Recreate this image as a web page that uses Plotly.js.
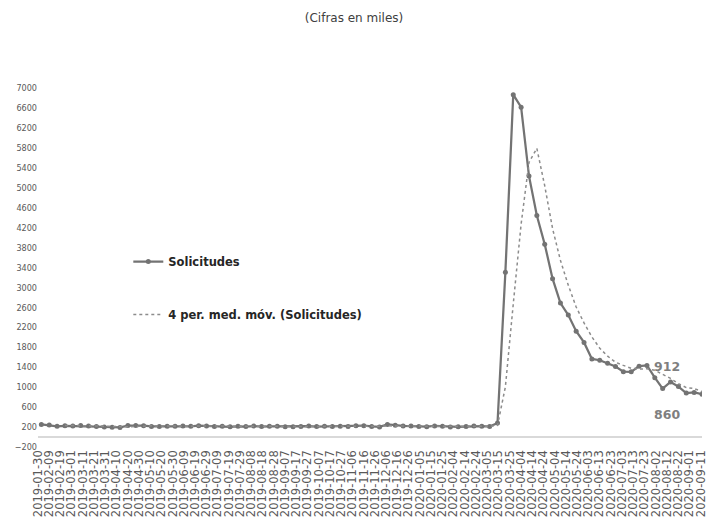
<!DOCTYPE html>
<html>
<head>
<meta charset="utf-8">
<script src="https://cdn.plot.ly/plotly-3.0.1.min.js"></script>
<style>html,body{margin:0;padding:0;background:#fff;}#chart{width:708px;height:524px;}</style>
</head>
<body>
<div id="chart"></div>
<script>
// Weekly dates (week ending)
const dates2019 = ["2019-02-02","2019-02-09","2019-02-16","2019-02-23","2019-03-02","2019-03-09","2019-03-16","2019-03-23","2019-03-30","2019-04-06","2019-04-13","2019-04-20","2019-04-27","2019-05-04","2019-05-11","2019-05-18","2019-05-25","2019-06-01","2019-06-08","2019-06-15","2019-06-22","2019-06-29","2019-07-06","2019-07-13","2019-07-20","2019-07-27","2019-08-03","2019-08-10","2019-08-17","2019-08-24","2019-08-31","2019-09-07","2019-09-14","2019-09-21","2019-09-28","2019-10-05","2019-10-12","2019-10-19","2019-10-26","2019-11-02","2019-11-09","2019-11-16","2019-11-23","2019-11-30","2019-12-07","2019-12-14","2019-12-21","2019-12-28"];
const dates2020 = ["2020-01-04","2020-01-11","2020-01-18","2020-01-25","2020-02-01","2020-02-08","2020-02-15","2020-02-22","2020-02-29","2020-03-07","2020-03-14","2020-03-21","2020-03-28","2020-04-04","2020-04-11","2020-04-18","2020-04-25","2020-05-02","2020-05-09","2020-05-16","2020-05-23","2020-05-30","2020-06-06","2020-06-13","2020-06-20","2020-06-27","2020-07-04","2020-07-11","2020-07-18","2020-07-25","2020-08-01","2020-08-08","2020-08-15","2020-08-22","2020-08-29","2020-09-05","2020-09-12"];

// Solicitudes (miles)
const solicitudes2019 = [253,239,216,226,223,230,221,211,202,196,192,230,230,228,212,211,215,218,222,216,227,221,209,216,206,215,209,220,209,215,217,204,208,213,219,210,214,212,218,211,225,227,213,203,252,234,222,220];
const solicitudes2020 = [212,207,222,216,203,206,211,220,217,211,282,3307,6867,6615,5237,4442,3867,3176,2687,2446,2123,1897,1566,1540,1482,1413,1310,1307,1422,1435,1191,971,1104,1011,881,893,860];

// 4 per. med. móv. (Solicitudes)
const mediaMovil2019 = [null,null,null,233.5,226,223.75,225,221.25,216,207.5,200.25,205,212,220,225,220.25,216.5,214,216.5,217.75,220.75,221.5,218.25,218.25,213,211.5,211.5,212.5,213.25,213.25,215.25,211.25,211,210.5,211,212.5,214,213.75,213.5,213.75,216.5,220.25,219,217,223.75,225.5,227.75,232];
const mediaMovil2020 = [222,215.25,215.25,214.25,212,211.75,209,210,213.5,214.75,232.5,1004.25,2666.75,4267.75,5506.5,5790.25,5040.25,4180.5,3543,3044,2608,2288.25,2008,1781.5,1621.25,1500.25,1436.25,1378,1363,1368.5,1338.75,1254.75,1175.25,1069.25,991.75,972.25,911.25];

const seriesNames = ["Solicitudes", "4 per. med. móv. (Solicitudes)"];
const endLabels = [912, 860];

const x = dates2019.concat(dates2020);
const ySol = solicitudes2019.concat(solicitudes2020);
const yMA = mediaMovil2019.concat(mediaMovil2020);
const lastDate = x[x.length - 1];

const traces = [
  {
    type: 'scatter', mode: 'lines+markers', name: '<b>' + seriesNames[0] + '</b>',
    x: x, y: ySol, legendgroup: 'a',
    line: {color: '#737373', width: 2.25},
    marker: {color: '#737373', size: 5, symbol: 'circle'},
    hoverinfo: 'x+y'
  },
  {
    type: 'scatter', mode: 'lines', name: '<b>' + seriesNames[1] + '</b>',
    x: x, y: yMA, legendgroup: 'b', connectgaps: false,
    line: {color: '#8c8c8c', width: 1.5, dash: 'dot'},
    hoverinfo: 'x+y'
  }
];

const layout = {
  width: 708, height: 524,
  paper_bgcolor: '#ffffff', plot_bgcolor: '#ffffff',
  margin: {l: 38, r: 6, t: 88, b: 77},
  title: {
    text: '(Cifras en miles)',
    x: 0.5, xanchor: 'center', xref: 'container',
    y: 0.966, yanchor: 'middle', yref: 'container',
    font: {family: 'DejaVu Sans, sans-serif', size: 12, color: '#404040'}
  },
  showlegend: true,
  legend: {
    x: 0.136, xanchor: 'left', y: 0.557, yanchor: 'top',
    bgcolor: 'rgba(0,0,0,0)', borderwidth: 0,
    traceorder: 'grouped', tracegroupgap: 34,
    font: {family: 'DejaVu Sans, sans-serif', size: 11.5, color: '#262626'}
  },
  xaxis: {
    type: 'date',
    range: ['2019-01-30', '2020-09-12'],
    tick0: '2019-01-30', dtick: 864000000,
    tickformat: '%Y-%m-%d', tickangle: -90,
    tickfont: {family: 'DejaVu Sans, sans-serif', size: 11.5, color: '#595959'},
    showgrid: false, zeroline: false, showline: false, ticks: '',
    automargin: false, fixedrange: true
  },
  yaxis: {
    range: [-200, 7000], tick0: -200, dtick: 400,
    tickfont: {family: 'DejaVu Sans Condensed, Liberation Sans Narrow, DejaVu Sans, sans-serif', size: 9, color: '#595959'},
    showgrid: false, zeroline: true, zerolinecolor: '#d9d9d9', zerolinewidth: 1.25,
    showline: false, ticks: '', automargin: false, fixedrange: true
  },
  annotations: [
    {x: lastDate, y: endLabels[0], xref: 'x', yref: 'y', text: '<b>' + endLabels[0] + '</b>',
     showarrow: false, xanchor: 'right', yanchor: 'middle', xshift: -20, yshift: 25,
     font: {family: 'DejaVu Sans, sans-serif', size: 12.5, color: '#7f7f7f'}},
    {x: lastDate, y: endLabels[1], xref: 'x', yref: 'y', text: '<b>' + endLabels[1] + '</b>',
     showarrow: false, xanchor: 'right', yanchor: 'middle', xshift: -20, yshift: -20,
     font: {family: 'DejaVu Sans, sans-serif', size: 12.5, color: '#7f7f7f'}}
  ]
};

Plotly.newPlot('chart', traces, layout, {displayModeBar: false, staticPlot: true});
</script>
</body>
</html>
